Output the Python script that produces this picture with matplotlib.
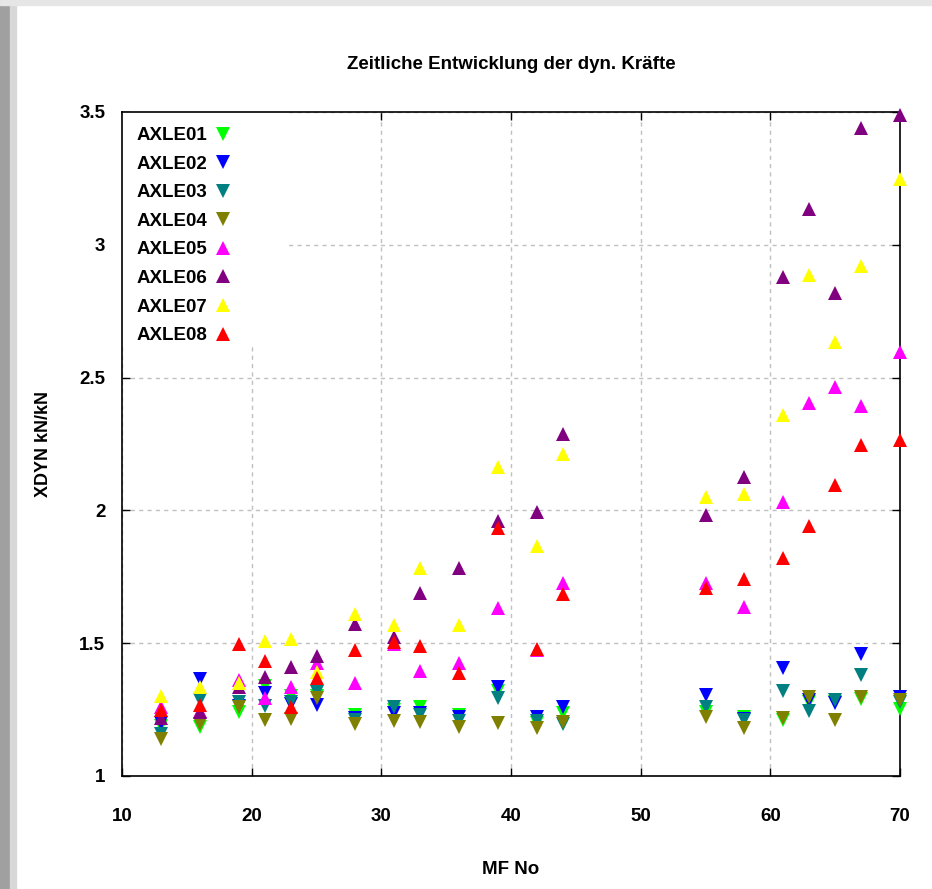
import numpy as np
import matplotlib
matplotlib.use('Agg')
import matplotlib.pyplot as plt
from matplotlib.patches import Rectangle

mf_no = [13, 16, 19, 21, 23, 25, 28, 31, 33, 36, 39, 42, 44, 55, 58, 61, 63, 65, 67, 70]

axle01 = [1.19, 1.185, 1.24, 1.339, 1.30, 1.30, 1.23, 1.248, 1.26, 1.23,
          1.32, 1.20, 1.237, 1.24, 1.222, 1.21, 1.28, 1.28, 1.29, 1.252]
axle02 = [1.20, 1.365, 1.265, 1.314, 1.271, 1.267, 1.22, 1.237, 1.237, 1.222,
          1.335, 1.222, 1.26, 1.305, 1.215, 1.406, 1.287, 1.275, 1.459, 1.299]
axle03 = [1.16, 1.286, 1.28, 1.264, 1.28, 1.317, 1.21, 1.26, 1.23, 1.208,
          1.294, 1.208, 1.195, 1.261, 1.211, 1.321, 1.246, 1.286, 1.38, 1.28]
axle04 = [1.14, 1.196, 1.26, 1.211, 1.215, 1.293, 1.196, 1.208, 1.205, 1.186,
          1.20, 1.18, 1.205, 1.223, 1.18, 1.218, 1.299, 1.211, 1.299, 1.286]
axle05 = [1.26, 1.245, 1.36, 1.294, 1.335, 1.424, 1.351, 1.497, 1.396, 1.427,
          1.633, 1.475, 1.728, 1.727, 1.636, 2.03, 2.404, 2.465, 2.394, 2.596]
axle06 = [1.22, 1.24, 1.335, 1.372, 1.41, 1.452, 1.572, 1.523, 1.689, 1.783,
          1.961, 1.995, 2.288, 1.983, 2.127, 2.88, 3.135, 2.818, 3.44, 3.49]
axle07 = [1.30, 1.335, 1.349, 1.508, 1.515, 1.393, 1.61, 1.568, 1.783, 1.568,
          2.165, 1.867, 2.212, 2.052, 2.062, 2.359, 2.886, 2.635, 2.921, 3.248]
axle08 = [1.25, 1.267, 1.497, 1.434, 1.26, 1.368, 1.474, 1.506, 1.489, 1.387,
          1.934, 1.478, 1.685, 1.708, 1.742, 1.82, 1.941, 2.096, 2.246, 2.265]

names = ['AXLE01', 'AXLE02', 'AXLE03', 'AXLE04', 'AXLE05', 'AXLE06', 'AXLE07', 'AXLE08']
series = [axle01, axle02, axle03, axle04, axle05, axle06, axle07, axle08]
colors = ['#00ff00', '#0000ff', '#008080', '#808000',
          '#ff00ff', '#800080', '#ffff00', '#ff0000']
markers = ['v', 'v', 'v', 'v', '^', '^', '^', '^']

plt.rcParams['font.family'] = ['Liberation Sans', 'DejaVu Sans']
plt.rcParams['font.weight'] = 'bold'

fig = plt.figure(figsize=(9.32, 8.89), dpi=100)
ax = fig.add_axes([122 / 932, 1 - 776 / 889, 778 / 932, 664 / 889])

# screenshot window frame
fig.patches.append(Rectangle((0, 0), 10 / 932, 1, transform=fig.transFigure,
                             color='#a0a0a0', zorder=-5))
fig.patches.append(Rectangle((10 / 932, 0), 6 / 932, 1, transform=fig.transFigure,
                             color='#d8d8d8', zorder=-5))
fig.patches.append(Rectangle((0, 1 - 5 / 889), 1, 5 / 889, transform=fig.transFigure,
                             color='#e6e6e6', zorder=-5))

for ys, name, c, m in zip(series, names, colors, markers):
    ax.plot(mf_no, ys, linestyle='none', marker=m, markersize=9.5,
            color=c, markeredgewidth=0, label=name, clip_on=False, zorder=3)

ax.set_xlim(10, 70)
ax.set_ylim(1, 3.5)
ax.set_xticks(np.arange(10, 71, 10))
ax.set_yticks([1, 1.5, 2, 2.5, 3, 3.5])
ax.set_yticklabels(['1', '1.5', '2', '2.5', '3', '3.5'])
ax.tick_params(direction='in', length=6, width=1, top=True, right=True,
               labelsize=13.5)
ax.tick_params(axis='x', pad=23)
ax.tick_params(axis='y', pad=12)
ax.grid(True, color='#c0c0c0', linestyle=(0, (3, 3)), linewidth=1)
ax.set_axisbelow(True)
for sp in ax.spines.values():
    sp.set_linewidth(1.2)

# white box behind the key
ax.add_patch(Rectangle((10, 2.623), 12.57, 0.877, facecolor='white',
                       edgecolor='none', zorder=1))

leg = ax.legend(loc='upper left', bbox_to_anchor=(0.002, 0.997), frameon=False,
                markerfirst=False, handlelength=1.0, handletextpad=0.3,
                labelspacing=0.61, prop={'size': 13.5, 'weight': 'bold'},
                borderaxespad=0.3)

ax.set_title('Zeitliche Entwicklung der dyn. Kräfte', fontsize=13.5,
             fontweight='bold', pad=31)
ax.set_xlabel('MF No', fontsize=13.5, fontweight='bold', labelpad=26)
ax.set_ylabel('XDYN kN/kN', fontsize=13, fontweight='bold', labelpad=20)

fig.savefig('out.png', dpi=100, facecolor='white')
